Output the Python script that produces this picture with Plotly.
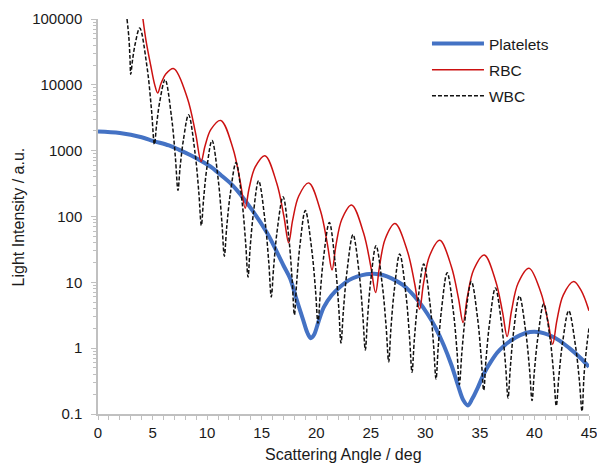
import plotly.graph_objects as go

# ---- data ----
platelets_x = [0, 2, 4, 5.1, 6.5, 7.4, 8.5, 9.5, 10.3, 11.3, 12.4, 14.0, 15.5, 17.0, 17.6, 18.2,
               18.8, 19.2, 19.5, 19.8, 20.2, 20.7, 21.4, 22.2, 23.0, 23.8, 24.6, 25.3, 26.1, 26.9,
               27.9, 28.7, 29.4, 30.2, 30.9, 31.7, 32.4, 33.0, 33.5, 33.9, 34.3, 34.8, 35.4, 36.0,
               36.6, 37.2, 37.9, 38.7, 39.6, 40.5, 41.4, 42.3, 43.2, 44.1, 45.0]
platelets_y = [1950, 1850, 1600, 1400, 1200, 1040, 850, 690, 575, 420, 290, 134, 56, 18, 11.5, 5.5,
               2.7, 1.7, 1.42, 1.6, 2.5, 4.2, 6.3, 8.6, 10.8, 12.3, 13.3, 13.5, 12.9, 11.5,
               9.2, 7.0, 5.1, 3.3, 2.1, 1.1, 0.55, 0.27, 0.16, 0.135, 0.17, 0.25, 0.42, 0.62,
               0.86, 1.08, 1.33, 1.58, 1.76, 1.75, 1.57, 1.3, 1.0, 0.74, 0.52]

rbc_x = [4.12, 4.4, 4.85, 5.2, 5.47, 5.77, 6.21, 6.95, 8.2, 8.95, 9.45, 9.81, 10.35, 11.25,
         12.37, 13.04, 13.49, 13.85, 14.4, 15.3, 16.39, 17.04, 17.47, 17.84, 18.4, 19.32,
         20.39, 21.02, 21.45, 21.81, 22.35, 23.24, 24.34, 25.0, 25.44, 25.8, 26.33, 27.22,
         28.35, 29.02, 29.47, 29.84, 30.4, 31.32, 32.39, 33.03, 33.46, 33.85, 34.43, 35.4,
         36.45, 37.08, 37.5, 37.9, 38.5, 39.5, 40.59, 41.24, 41.67, 42.06, 42.64, 43.6, 44.3, 45.0]
rbc_y = [100000, 47000, 19000, 10000, 7500, 10400, 14600, 17600, 6200, 1810, 680, 1180, 2100, 2880,
         1080, 336, 134, 269, 561, 840, 317, 100, 40, 88, 205, 324,
         122, 38.5, 15.4, 36.6, 91, 150, 56, 17.5, 7.0, 17.5, 46, 78,
         30, 9.6, 3.9, 9.8, 25.6, 43.5, 17.3, 5.8, 2.45, 6.0, 15.5, 26,
         10.4, 3.5, 1.5, 3.7, 9.7, 16.4, 7.0, 2.55, 1.15, 2.65, 6.4, 10.3, 7.4, 3.7]

wbc_x = [2.66, 2.83, 2.93, 3.0, 3.16, 3.41, 3.82,
         4.5, 4.9, 5.17, 5.37, 5.66, 6.15, 6.74, 7.09, 7.33, 7.52, 7.82, 8.3,
         8.89, 9.24, 9.47, 9.67, 9.96, 10.45, 11.02, 11.35, 11.58, 11.79, 12.12, 12.65,
         13.2, 13.53, 13.75, 13.94, 14.24, 14.72, 15.3, 15.65, 15.88, 16.1, 16.42, 16.96,
         17.48, 17.79, 18.0, 18.2, 18.5, 19.0, 19.58, 19.93, 20.16, 20.37, 20.68, 21.2,
         21.74, 22.06, 22.27, 22.49, 22.82, 23.37, 23.94, 24.27, 24.5, 24.7, 24.99, 25.48,
         26.06, 26.41, 26.64, 26.84, 27.15, 27.65, 28.22, 28.55, 28.78, 28.99, 29.32, 29.85,
         30.42, 30.75, 30.98, 31.18, 31.49, 32.0, 32.56, 32.9, 33.12, 33.34, 33.67, 34.22,
         34.79, 35.12, 35.35, 35.56, 35.89, 36.42, 37.0, 37.35, 37.58, 37.79, 38.1, 38.62,
         39.2, 39.55, 39.78, 39.99, 40.32, 40.85, 41.43, 41.77, 42.0, 42.23, 42.57, 43.14,
         43.75, 44.12, 44.36, 44.55, 44.8, 45.0]
wbc_y = [100000, 51900, 25900, 14500, 23500, 42100, 73000,
         18300, 4240, 1250, 2470, 5560, 12000, 3220, 800, 250, 552, 1430, 3500,
         938, 233, 73, 178, 520, 1430, 361, 84, 25, 67, 217, 660,
         169, 40, 12, 33, 111, 350, 88, 20.3, 6.0, 17.2, 60.7, 200,
         49, 11.1, 3.2, 9.6, 35.6, 123, 32.3, 7.8, 2.4, 6.9, 24.4, 81,
         19.3, 4.25, 1.2, 3.74, 14.6, 53, 13.5, 3.15, 0.94, 2.81, 10.4, 36,
         9.0, 2.09, 0.62, 1.92, 7.5, 27, 6.6, 1.49, 0.43, 1.34, 5.24, 19,
         4.84, 1.14, 0.34, 1.04, 3.95, 14, 3.7, 0.91, 0.28, 0.83, 3.03, 10.3,
         2.83, 0.72, 0.23, 0.67, 2.43, 8.2, 2.22, 0.56, 0.175, 0.51, 1.84, 6.2,
         1.79, 0.48, 0.16, 0.44, 1.49, 4.7, 1.4, 0.39, 0.133, 0.36, 1.19, 3.7,
         1.12, 0.32, 0.11, 0.4, 1.1, 2.0]

y_tick_vals = [0.1, 1, 10, 100, 1000, 10000, 100000]
y_tick_text = ["0.1", "1", "10", "100", "1000", "10000", "100000"]
x_tick_vals = [0, 5, 10, 15, 20, 25, 30, 35, 40, 45]

x_title = "Scattering Angle / deg"
y_title = "Light Intensity / a.u."

FONT = "Liberation Sans, Arial, sans-serif"
AXIS_GRAY = "#c0c0c0"

fig = go.Figure()
fig.add_trace(go.Scatter(x=platelets_x, y=platelets_y, name="Platelets", mode="lines",
                         line=dict(color="#4472c4", width=4, shape="spline"),
                         legendgroup="a"))
fig.add_trace(go.Scatter(x=rbc_x, y=rbc_y, name="RBC", mode="lines",
                         line=dict(color="#cc1111", width=1.5, shape="spline"),
                         legendgroup="b"))
fig.add_trace(go.Scatter(x=wbc_x, y=wbc_y, name="WBC", mode="lines",
                         line=dict(color="#111111", width=1.5, shape="spline", dash="4px,2px"),
                         legendgroup="c"))

fig.update_layout(
    width=597, height=466,
    margin=dict(l=98, r=8, t=19, b=52, autoexpand=False),
    paper_bgcolor="white", plot_bgcolor="white",
    font=dict(family=FONT, size=15, color="#1a1a1a"),
    showlegend=True,
    legend=dict(x=0.67, y=0.98, xanchor="left", yanchor="top",
                font=dict(size=15.5, family=FONT, color="#1a1a1a"),
                itemwidth=52, tracegroupgap=3, bgcolor="rgba(0,0,0,0)"),
    xaxis=dict(range=[0, 45], tickvals=x_tick_vals, showgrid=False, zeroline=False,
               automargin=False, ticklabeloverflow="allow",
               showline=True, linecolor=AXIS_GRAY, linewidth=1.5,
               ticks="outside", ticklen=4, tickcolor=AXIS_GRAY, tickwidth=1,
               minor=dict(dtick=1, ticks="outside", ticklen=4, tickcolor=AXIS_GRAY, tickwidth=1),
               tickfont=dict(size=15, family=FONT)),
    yaxis=dict(type="log", range=[-1, 5], tickvals=y_tick_vals, ticktext=y_tick_text,
               showgrid=False, zeroline=False, automargin=False, ticklabeloverflow="allow",
               showline=True, linecolor=AXIS_GRAY, linewidth=1.5,
               ticks="outside", ticklen=5, tickcolor=AXIS_GRAY, tickwidth=1,
               minor=dict(dtick="D1", ticks="outside", ticklen=3, tickcolor=AXIS_GRAY, tickwidth=1),
               tickfont=dict(size=15, family=FONT), ticklabelstandoff=6),
    annotations=[
        dict(text=x_title, xref="paper", yref="paper", x=0.5, y=-0.076,
             xanchor="center", yanchor="top", showarrow=False,
             font=dict(size=16, family=FONT, color="#1a1a1a")),
        dict(text=y_title, xref="paper", yref="paper", x=-0.161, y=0.5, textangle=-90,
             xanchor="center", yanchor="middle", showarrow=False,
             font=dict(size=16, family=FONT, color="#1a1a1a")),
    ],
)

fig.write_html("out.html",
               config={"displayModeBar": False},
               post_script="document.body.style.margin='0';document.body.style.overflow='hidden';")
